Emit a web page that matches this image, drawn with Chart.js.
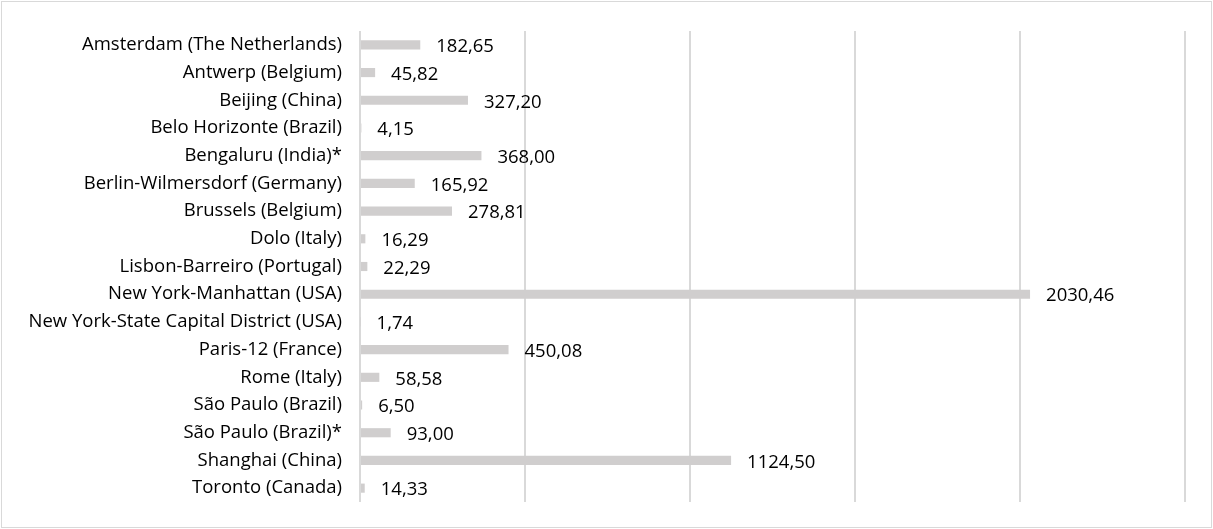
<!DOCTYPE html>
<html>
<head>
<meta charset="utf-8">
<script src="https://cdn.jsdelivr.net/npm/chart.js@4/dist/chart.umd.min.js"></script>
<style>
  body { margin: 0; background: #fff; }
  #wrap { position: absolute; left: 1px; top: 1px; width: 1211px; height: 527px; border: 1px solid #d9d9d9; box-sizing: border-box; }
</style>
</head>
<body>
<div id="wrap"><canvas id="chart"></canvas></div>
<script>
const cities = [
  'Amsterdam (The Netherlands)', 'Antwerp (Belgium)', 'Beijing (China)', 'Belo Horizonte (Brazil)',
  'Bengaluru (India)*', 'Berlin-Wilmersdorf (Germany)', 'Brussels (Belgium)', 'Dolo (Italy)',
  'Lisbon-Barreiro (Portugal)', 'New York-Manhattan (USA)', 'New York-State Capital District (USA)',
  'Paris-12 (France)', 'Rome (Italy)', 'São Paulo (Brazil)', 'São Paulo (Brazil)*',
  'Shanghai (China)', 'Toronto (Canada)'
];
const values = [182.65, 45.82, 327.20, 4.15, 368.00, 165.92, 278.81, 16.29, 22.29, 2030.46, 1.74, 450.08, 58.58, 6.50, 93.00, 1124.50, 14.33];
const xTicks = [0, 500, 1000, 1500, 2000, 2500];

const FONT = "'Open Sans', sans-serif";
const SIZE = 18.5;
const fmt = v => v.toFixed(2).replace('.', ',');

// value labels after each bar
const valueLabels = {
  id: 'valueLabels',
  afterDatasetsDraw(chart) {
    const { ctx } = chart;
    const meta = chart.getDatasetMeta(0);
    ctx.save();
    ctx.font = SIZE + 'px ' + FONT;
    ctx.fillStyle = '#000';
    ctx.textBaseline = 'middle';
    ctx.textAlign = 'left';
    meta.data.forEach((bar, i) => {
      ctx.fillText(fmt(values[i]), bar.x + 16, bar.y + 2);
    });
    ctx.restore();
  }
};

new Chart(document.getElementById('chart'), {
  type: 'bar',
  data: {
    labels: cities,
    datasets: [{
      data: values,
      backgroundColor: '#d0cece',
      barPercentage: 0.33,
      categoryPercentage: 1
    }]
  },
  options: {
    indexAxis: 'y',
    responsive: true,
    maintainAspectRatio: false,
    animation: false,
    layout: { padding: { top: 29, right: 26, bottom: 25, left: 0 } },
    plugins: { legend: { display: false }, tooltip: { enabled: false } },
    scales: {
      x: {
        min: xTicks[0],
        max: xTicks[xTicks.length - 1],
        afterBuildTicks: s => { s.ticks = xTicks.map(v => ({ value: v })); },
        ticks: { display: false },
        grid: { color: '#d9d9d9', lineWidth: 2, drawTicks: false },
        border: { display: false }
      },
      y: {
        afterFit: s => { s.width = 358; },
        ticks: { color: '#000', padding: 0, autoSkip: false, font: { family: FONT, size: SIZE } },
        grid: { display: false, drawTicks: true, tickLength: 18 },
        border: { display: false }
      }
    }
  },
  plugins: [valueLabels]
});
</script>
</body>
</html>
